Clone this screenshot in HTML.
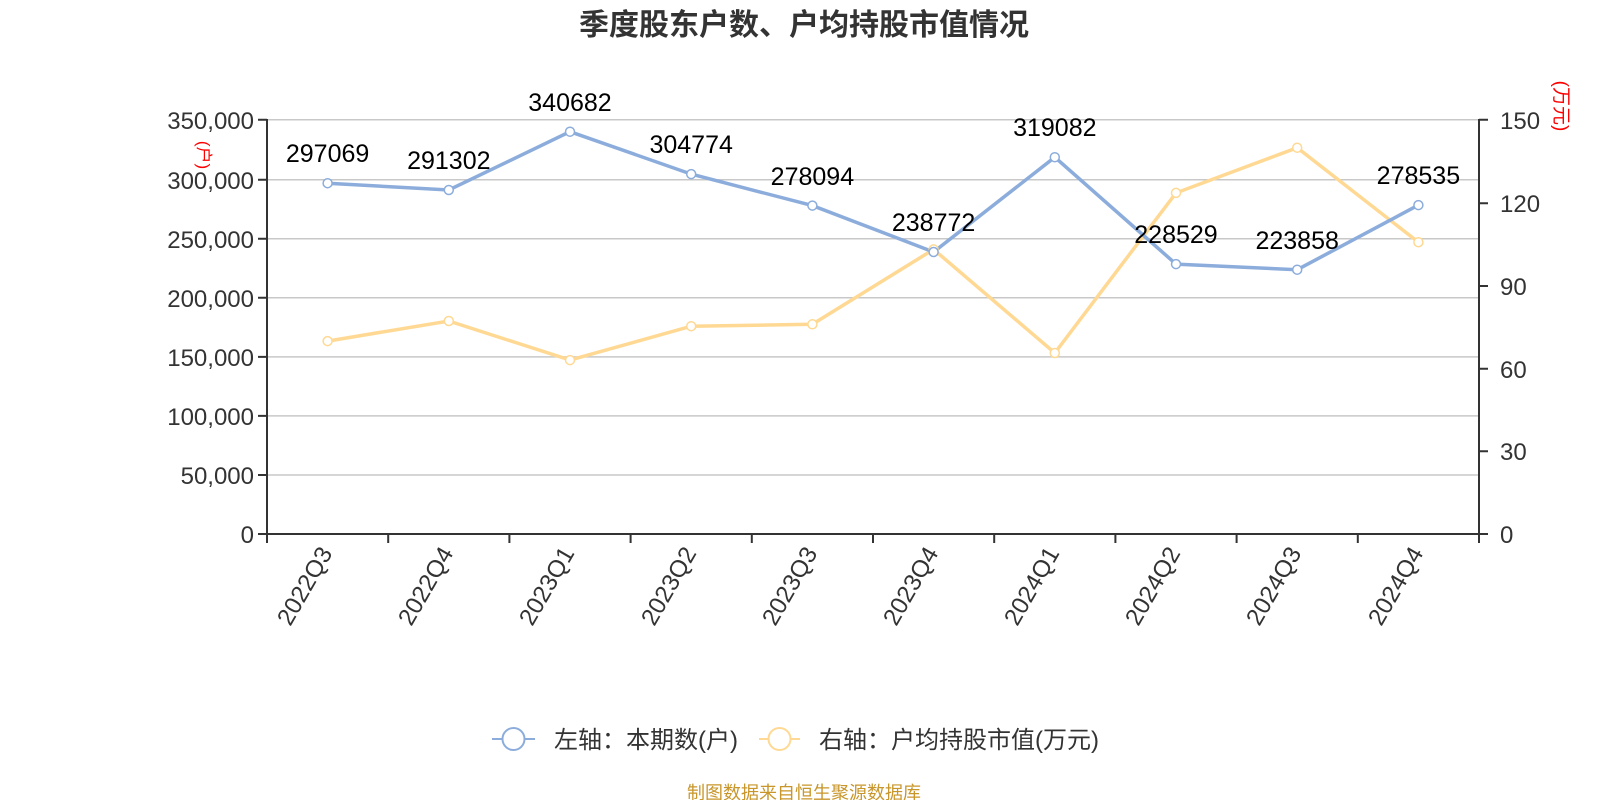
<!DOCTYPE html>
<html><head><meta charset="utf-8"><style>body{margin:0;background:#fff}svg{display:block}</style></head>
<body>
<svg width="1600" height="800" xmlns="http://www.w3.org/2000/svg" font-family="'Liberation Sans','Noto Sans CJK SC',sans-serif">
<text x="804" y="35" font-size="30" font-weight="bold" fill="#333" text-anchor="middle">季度股东户数、户均持股市值情况</text>
<g stroke="#c8c8c8" stroke-width="1.5">
<line x1="267" x2="1479" y1="475" y2="475"/><line x1="267" x2="1479" y1="415.9" y2="415.9"/><line x1="267" x2="1479" y1="356.9" y2="356.9"/><line x1="267" x2="1479" y1="297.8" y2="297.8"/><line x1="267" x2="1479" y1="238.8" y2="238.8"/><line x1="267" x2="1479" y1="179.8" y2="179.8"/><line x1="267" x2="1479" y1="119.7" y2="119.7"/>
</g>
<g stroke="#333" stroke-width="2" fill="none">
<line x1="267" y1="119" x2="267" y2="535"/><line x1="1479" y1="119" x2="1479" y2="535"/><line x1="258" y1="534" x2="1488" y2="534"/>
<path d="M258 475H267M258 415.9H267M258 356.9H267M258 297.8H267M258 238.8H267M258 179.8H267M258 119.7H267"/>
<path d="M1479 451.3H1488M1479 368.7H1488M1479 286H1488M1479 203.3H1488M1479 119.7H1488"/>
<path d="M267 534v9M388.2 534v9M509.4 534v9M630.6 534v9M751.8 534v9M873 534v9M994.2 534v9M1115.4 534v9M1236.6 534v9M1357.8 534v9M1479 534v9"/>
</g>
<g font-size="24" fill="#333" text-anchor="end">
<text x="254" y="543">0</text><text x="254" y="484">50,000</text><text x="254" y="425">100,000</text><text x="254" y="366">150,000</text><text x="254" y="307">200,000</text><text x="254" y="248">250,000</text><text x="254" y="189">300,000</text><text x="254" y="129">350,000</text>
</g>
<g font-size="24" fill="#333">
<text x="1500" y="543">0</text><text x="1500" y="460">30</text><text x="1500" y="378">60</text><text x="1500" y="295">90</text><text x="1500" y="212">120</text><text x="1500" y="129">150</text>
</g>
<g font-size="24" fill="#333" text-anchor="end">
<text transform="translate(333,553) rotate(-60)">2022Q3</text><text transform="translate(454,553) rotate(-60)">2022Q4</text><text transform="translate(575,553) rotate(-60)">2023Q1</text><text transform="translate(697,553) rotate(-60)">2023Q2</text><text transform="translate(818,553) rotate(-60)">2023Q3</text><text transform="translate(939,553) rotate(-60)">2023Q4</text><text transform="translate(1060,553) rotate(-60)">2024Q1</text><text transform="translate(1181,553) rotate(-60)">2024Q2</text><text transform="translate(1302,553) rotate(-60)">2024Q3</text><text transform="translate(1424,553) rotate(-60)">2024Q4</text>
</g>
<text transform="translate(198,155) rotate(90)" font-size="17" fill="red" text-anchor="middle">(户)</text>
<text transform="translate(1555,106) rotate(90)" font-size="19" fill="red" text-anchor="middle">(万元)</text>
<polyline fill="none" stroke="#ffd993" stroke-width="3.5" points="327.6,341.1 448.8,321 570,360.1 691.2,326.2 812.4,324.3 933.6,249.4 1054.8,353 1176,192.9 1297.2,147.7 1418.4,242.2"/>
<polyline fill="none" stroke="#8caddc" stroke-width="3.5" points="327.6,183.2 448.8,190 570,131.7 691.2,174.1 812.4,205.6 933.6,252 1054.8,157.2 1176,264.1 1297.2,269.7 1418.4,205.1"/>
<g fill="#fff" stroke="#ffd993" stroke-width="1.5">
<circle cx="327.6" cy="341.1" r="4.5"/><circle cx="448.8" cy="321" r="4.5"/><circle cx="570" cy="360.1" r="4.5"/><circle cx="691.2" cy="326.2" r="4.5"/><circle cx="812.4" cy="324.3" r="4.5"/><circle cx="933.6" cy="249.4" r="4.5"/><circle cx="1054.8" cy="353" r="4.5"/><circle cx="1176" cy="192.9" r="4.5"/><circle cx="1297.2" cy="147.7" r="4.5"/><circle cx="1418.4" cy="242.2" r="4.5"/>
</g>
<g fill="#fff" stroke="#8caddc" stroke-width="1.5">
<circle cx="327.6" cy="183.2" r="4.5"/><circle cx="448.8" cy="190" r="4.5"/><circle cx="570" cy="131.7" r="4.5"/><circle cx="691.2" cy="174.1" r="4.5"/><circle cx="812.4" cy="205.6" r="4.5"/><circle cx="933.6" cy="252" r="4.5"/><circle cx="1054.8" cy="157.2" r="4.5"/><circle cx="1176" cy="264.1" r="4.5"/><circle cx="1297.2" cy="269.7" r="4.5"/><circle cx="1418.4" cy="205.1" r="4.5"/>
</g>
<g font-size="25" fill="#000" text-anchor="middle">
<text x="327.6" y="162">297069</text><text x="448.8" y="169">291302</text><text x="570" y="111">340682</text><text x="691.2" y="153">304774</text><text x="812.4" y="185">278094</text><text x="933.6" y="231">238772</text><text x="1054.8" y="136">319082</text><text x="1176" y="243">228529</text><text x="1297.2" y="249">223858</text><text x="1418.4" y="184">278535</text>
</g>
<g>
<line x1="492" y1="739" x2="535" y2="739" stroke="#8caddc" stroke-width="2"/><circle cx="513.5" cy="739" r="11" fill="#fff" stroke="#8caddc" stroke-width="2"/>
<text x="554" y="748" font-size="24" fill="#333">左轴：本期数(户)</text>
<line x1="759" y1="739" x2="800" y2="739" stroke="#ffd993" stroke-width="2"/><circle cx="779.5" cy="739" r="11" fill="#fff" stroke="#ffd993" stroke-width="2"/>
<text x="819" y="748" font-size="24" fill="#333">右轴：户均持股市值(万元)</text>
</g>
<text x="804" y="799" font-size="18" fill="#c8962a" text-anchor="middle">制图数据来自恒生聚源数据库</text>
</svg>
</body></html>
